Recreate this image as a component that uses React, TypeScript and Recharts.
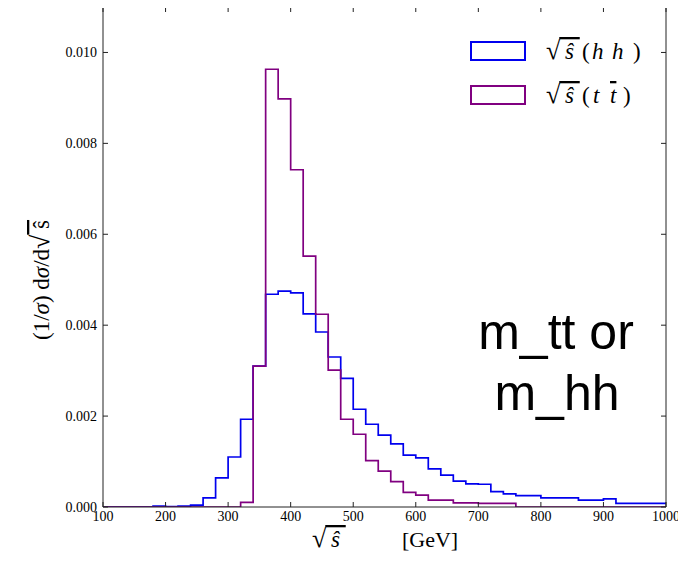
import { LineChart, Line, XAxis, YAxis } from 'recharts'

// histogram bins, 20 GeV wide (left edges)
const binStart = [
  100, 120, 140, 160, 180, 200, 220, 240, 260, 280, 300, 320, 340, 360, 380,
  400, 420, 440, 460, 480, 500, 520, 540, 560, 580, 600, 620, 640, 660, 680,
  700, 720, 740, 760, 780, 800, 820, 840, 860, 880, 900, 920, 940, 960, 980,
]
const binEnd = 1000

const hhValues = [
  0, 0, 0, 0, 0.00002, 0.00001, 0.00002, 0.00004, 0.0002, 0.00064, 0.0011, 0.00193,
  0.0031, 0.00468, 0.00475, 0.00471, 0.00425, 0.00385, 0.0033, 0.00283, 0.00215,
  0.00182, 0.00158, 0.00139, 0.00114, 0.00108, 0.00084, 0.0007, 0.00057, 0.00051,
  0.0005, 0.00034, 0.00029, 0.00025, 0.00025, 0.0002, 0.0002, 0.0002, 0.00015,
  0.00015, 0.00018, 0.00008, 0.00008, 0.00008, 0.00008,
]

const ttValues = [
  0, 0, 0, 0, 0, 0, 0, 0, 0, 0, 0, 0.0001, 0.0031, 0.00963, 0.00898, 0.00742,
  0.00552, 0.00424, 0.00301, 0.00193, 0.0016, 0.00102, 0.00079, 0.00056, 0.00032,
  0.00026, 0.00015, 0.00015, 0.00009, 0.00009, 0.00008, 0.00008, 0.00008, 0, 0, 0,
  0, 0, 0, 0, 0, 0, 0, 0, 0,
]

const xTicks = [100, 200, 300, 400, 500, 600, 700, 800, 900, 1000]
const yTicks = [0, 0.002, 0.004, 0.006, 0.008, 0.01]

const data = [
  ...binStart.map((x, i) => ({ x, hh: hhValues[i], tt: ttValues[i] })),
  { x: binEnd, hh: hhValues[hhValues.length - 1], tt: ttValues[ttValues.length - 1] },
]

const serif = '"Liberation Serif", "DejaVu Serif", serif'
const sans = '"Liberation Sans", Arial, sans-serif'
const tickStyle = { fontFamily: serif, fontSize: 14, fill: '#000' }

// sqrt(s-hat) drawn as text, radical slightly larger
function SqrtS({ x, y }: { x: number; y: number }) {
  return (
    <text x={x} y={y} fontFamily={serif} fontSize={23}>
      <tspan fontSize={26}>√</tspan>
      <tspan fontStyle="italic" textDecoration="overline" dx={-1}>
        {'\u00a0ŝ\u00a0'}
      </tspan>
    </text>
  )
}

export default function App() {
  return (
    <div style={{ position: 'relative', width: 686, height: 562, margin: -8, background: '#fff' }}>
      <LineChart width={686} height={562} data={data} margin={{ top: 0, right: 0, bottom: 0, left: 0 }}>
        <XAxis
          dataKey="x"
          type="number"
          domain={[100, 1000]}
          ticks={xTicks}
          height={55}
          tickSize={-5}
          tickMargin={9}
          tick={tickStyle}
          stroke="#222"
          allowDataOverflow
        />
        <XAxis
          xAxisId="t"
          orientation="top"
          dataKey="x"
          type="number"
          domain={[100, 1000]}
          ticks={xTicks}
          height={7}
          tickSize={-5}
          tickFormatter={() => ''}
          stroke="#222"
          allowDataOverflow
        />
        <YAxis
          type="number"
          domain={[0, 0.011]}
          ticks={yTicks}
          width={103}
          tickSize={-5}
          tickMargin={11}
          tick={tickStyle}
          tickFormatter={(v: number) => v.toFixed(3)}
          stroke="#222"
          allowDataOverflow
        />
        <YAxis
          yAxisId="r"
          orientation="right"
          type="number"
          domain={[0, 0.011]}
          ticks={yTicks}
          width={20}
          tickSize={-5}
          tickFormatter={() => ''}
          stroke="#222"
          allowDataOverflow
        />
        <Line
          dataKey="hh"
          type="stepAfter"
          stroke="#0000ee"
          strokeWidth={1.7}
          dot={false}
          isAnimationActive={false}
        />
        <Line
          dataKey="tt"
          type="stepAfter"
          stroke="#800080"
          strokeWidth={1.7}
          dot={false}
          isAnimationActive={false}
        />
      </LineChart>

      <svg
        width={686}
        height={562}
        style={{ position: 'absolute', left: 0, top: 0, pointerEvents: 'none' }}
      >
        {/* legend */}
        <rect x={471} y={42} width={54} height={18} fill="none" stroke="#0000ee" strokeWidth={2} />
        <rect x={471} y={86} width={54} height={18} fill="none" stroke="#800080" strokeWidth={2} />
        <SqrtS x={546} y={59} />
        <text y={59} fontFamily={serif} fontSize={23}>
          <tspan x={582}>(</tspan>
          <tspan x={592} fontStyle="italic">h</tspan>
          <tspan x={612} fontStyle="italic">h</tspan>
          <tspan x={633}>)</tspan>
        </text>
        <SqrtS x={546} y={103} />
        <text y={103} fontFamily={serif} fontSize={23}>
          <tspan x={582}>(</tspan>
          <tspan x={593} fontStyle="italic">t</tspan>
          <tspan x={610} fontStyle="italic" textDecoration="overline">t</tspan>
          <tspan x={623}>)</tspan>
        </text>

        {/* y label */}
        <text
          transform="translate(49,280) rotate(-90)"
          textAnchor="middle"
          fontFamily={serif}
          fontSize={23}
        >
          (1/<tspan fontStyle="italic">σ</tspan>) d<tspan fontStyle="italic">σ</tspan>/d
          <tspan fontSize={26}>√</tspan>
          <tspan textDecoration="overline">{'\u00a0ŝ'}</tspan>
        </text>

        {/* x label */}
        <SqrtS x={312} y={547} />
        <text x={402} y={547} fontFamily={serif} fontSize={22}>
          [GeV]
        </text>

        {/* annotation */}
        <text x={556} y={349} textAnchor="middle" fontFamily={sans} fontSize={50}>
          m_tt or
        </text>
        <text x={557} y={410} textAnchor="middle" fontFamily={sans} fontSize={50}>
          m_hh
        </text>
      </svg>
    </div>
  )
}
